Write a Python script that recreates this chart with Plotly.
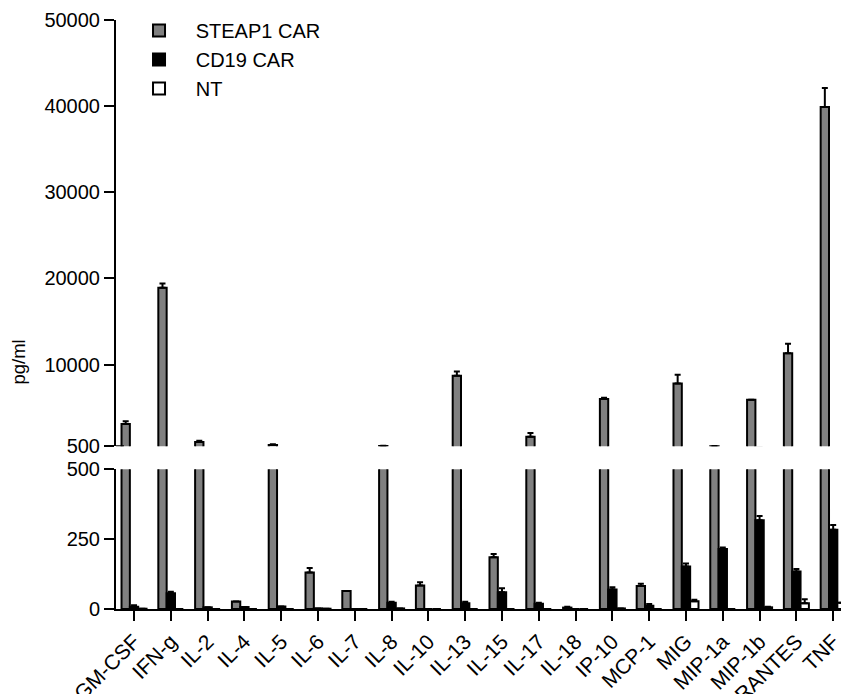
import plotly.graph_objects as go

categories = ["GM-CSF", "IFN-g", "IL-2", "IL-4", "IL-5", "IL-6", "IL-7", "IL-8", "IL-10", "IL-13",
              "IL-15", "IL-17", "IL-18", "IP-10", "MCP-1", "MIG", "MIP-1a", "MIP-1b", "RANTES", "TNF"]

steap1 = [3100, 18900, 1000, 27, 650, 131, 64, 540, 84, 8700, 185, 1600, 5, 6000, 82, 7800, 520, 5900, 11300, 39900]
steap1_err = [300, 500, 150, 0, 100, 16, 0, 40, 12, 500, 12, 450, 3, 150, 8, 1000, 30, 0, 1100, 2200]

cd19 = [8, 56, 6, 7, 9, 2, 0, 22, 0, 21, 60, 19, 0, 70, 12, 152, 215, 318, 134, 284]
cd19_err = [5, 6, 0, 0, 0, 0, 0, 4, 0, 5, 14, 3, 0, 8, 6, 11, 5, 15, 9, 17]

nt = [1, 0, 0, 0, 0, 1, 0, 2, 0, 0, 0, 0, 0, 2, 0, 28, 0, 6, 21, 22]
nt_err = [0, 0, 0, 0, 0, 0, 0, 0, 0, 0, 0, 0, 0, 0, 0, 5, 0, 2, 14, 0]

series = [
    ("STEAP1 CAR", steap1, steap1_err, "#808080"),
    ("CD19 CAR", cd19, cd19_err, "#000000"),
    ("NT", nt, nt_err, "#ffffff"),
]

FONT = "Liberation Sans, Arial, sans-serif"
NB = "\u00a0\u00a0\u00a0"

fig = go.Figure()
for name, vals, errs, color in series:
    for xa, ya, show in (("x", "y", False), ("x2", "y2", True)):
        fig.add_trace(go.Bar(
            x=categories, y=vals, name=NB + name, legendgroup=name, showlegend=show,
            xaxis=xa, yaxis=ya,
            marker=dict(color=color, line=dict(color="black", width=2)),
            error_y=dict(type="data", array=errs, arrayminus=[0] * len(errs), symmetric=False,
                         color="black", thickness=2, width=3),
        ))

axis_common = dict(showline=True, linecolor="black", linewidth=2, ticks="outside",
                   ticklen=10, tickwidth=2, tickcolor="black", showgrid=False, zeroline=False,
                   tickfont=dict(size=20, color="black", family=FONT))

fig.update_layout(
    width=841, height=686,
    margin=dict(l=108, r=0, t=12, b=85, autoexpand=False),
    paper_bgcolor="white", plot_bgcolor="white",
    barmode="group", bargap=0.32, bargroupgap=0,
    font=dict(family=FONT, color="black"),
    xaxis=dict(domain=[0, 1], anchor="y", type="category", range=[-0.49, 19.43],
               tickangle=-45, automargin=False,
               **{**axis_common, "tickfont": dict(size=21, color="black", family=FONT)}),
    xaxis2=dict(domain=[0, 1], anchor="y2", matches="x", visible=False, type="category"),
    yaxis=dict(domain=[0, 0.2372], range=[0, 500], tickvals=[0, 250, 500], anchor="x",
               automargin=False, **axis_common),
    yaxis2=dict(domain=[0.2762, 1], range=[500, 50000],
                tickvals=[500, 10000, 20000, 30000, 40000, 50000],
                ticktext=["500", "10000", "20000", "30000", "40000", "50000"],
                anchor="x2", automargin=False, **axis_common),
    legend=dict(xref="paper", yref="paper", x=0.0314, y=1.0154,
                xanchor="left", yanchor="top", bgcolor="rgba(0,0,0,0)",
                font=dict(size=20, color="black", family=FONT), tracegroupgap=0),
    showlegend=True,
)

fig.add_annotation(text="pg/ml", textangle=-90, xref="paper", yref="paper",
                   x=-0.133, y=(609 - 362) / 589, xanchor="center", yanchor="middle",
                   showarrow=False, font=dict(size=18.5, color="black", family=FONT))

# small break mark at the bottom of the upper segment
fig.add_shape(type="line", xref="paper", yref="y2", x0=0, x1=8 / 733, y0=500, y1=500,
              line=dict(color="black", width=2))

fig.write_html("out.html")
